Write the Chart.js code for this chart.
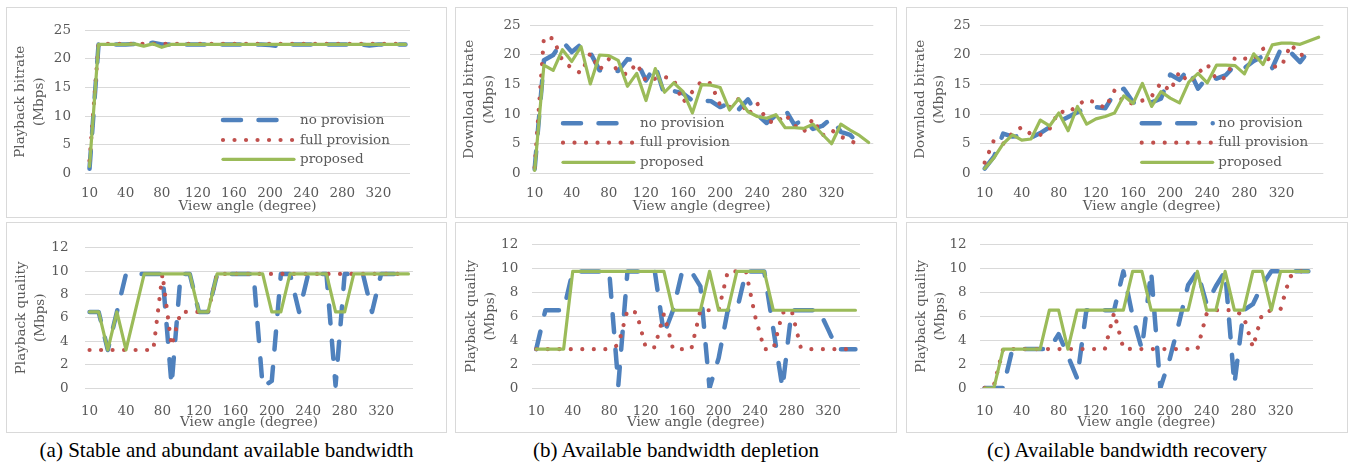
<!DOCTYPE html>
<html><head><meta charset="utf-8">
<script src="https://cdn.jsdelivr.net/npm/chart.js@4.4.0/dist/chart.umd.min.js"></script>
<style>
html,body{margin:0;padding:0;background:#fff;width:1351px;height:464px;overflow:hidden;}
.panel{position:absolute;border:1px solid #d9d9d9;box-sizing:border-box;}
.panel canvas{position:absolute;left:0;top:0;}
.cap{position:absolute;font-family:"Liberation Serif","Times New Roman",serif;font-size:21px;line-height:21px;color:#000;text-align:center;white-space:nowrap;}
</style></head><body>
<div class="panel" style="left:6px;top:7px;width:441px;height:211px"><canvas id="cA1" width="439" height="209"></canvas></div>
<div class="panel" style="left:455px;top:7px;width:442px;height:211px"><canvas id="cB1" width="440" height="209"></canvas></div>
<div class="panel" style="left:906px;top:7px;width:442px;height:211px"><canvas id="cC1" width="440" height="209"></canvas></div>
<div class="panel" style="left:6px;top:222px;width:441px;height:211px"><canvas id="cA2" width="439" height="209"></canvas></div>
<div class="panel" style="left:455px;top:222px;width:442px;height:211px"><canvas id="cB2" width="440" height="209"></canvas></div>
<div class="panel" style="left:906px;top:222px;width:442px;height:211px"><canvas id="cC2" width="440" height="209"></canvas></div>
<div class="cap" style="left:6px;top:440px;width:441px">(a) Stable and abundant available bandwidth</div>
<div class="cap" style="left:455px;top:440px;width:442px">(b) Available bandwidth depletion</div>
<div class="cap" style="left:906px;top:440px;width:442px">(c) Available bandwidth recovery</div>
<script>
// ---------- data ----------
const categories36 = ['0','10','20','30','40','50','60','70','80','90','100','110','120','130','140','150','160','170','180','190','200','210','220','230','240','250','260','270','280','290','300','310','320','330','340','350'];
const categories37 = ['0','10','20','30','40','50','60','70','80','90','100','110','120','130','140','150','160','170','180','190','200','210','220','230','240','250','260','270','280','290','300','310','320','330','340','350','360'];
const tickLabels = ['10','40','80','120','160','200','240','280','320'];
const seriesNames = ['no provision','full provision','proposed'];

// (a) playback bitrate
const rateA_none = [0.8,22.5,22.5,22.5,22.5,22.6,22.6,22.8,22.5,22.5,22.5,22.5,22.5,22.5,22.5,22.5,22.5,22.5,22.5,22.5,22.4,22.2,22.5,22.5,22.5,22.5,22.5,22.5,22.5,22.5,22.5,22.3,22.5,22.5,22.5,22.5];
const rateA_full = [2.2,22.6,22.6,22.6,22.6,22.6,22.6,22.6,22.6,22.6,22.6,22.6,22.6,22.6,22.6,22.6,22.6,22.6,22.6,22.6,22.6,22.6,22.6,22.6,22.6,22.6,22.6,22.6,22.6,22.6,22.6,22.6,22.6,22.6,22.6,22.6];
const rateA_prop = [1.2,22.5,22.5,22.5,22.5,22.6,22.2,22.6,22.0,22.5,22.5,22.5,22.5,22.5,22.5,22.5,22.5,22.5,22.5,22.5,22.5,22.5,22.5,22.5,22.5,22.5,22.5,22.5,22.5,22.5,22.5,22.5,22.5,22.5,22.5,22.5];
// (b) download bitrate
const rateB_none = [0.7,19.1,20.0,22.3,20.5,21.8,20.4,17.4,17.3,17.3,19.3,19.0,15.7,18.2,13.2,13.9,13.5,12.3,12.3,12.2,11.2,11.8,10.8,12.5,9.9,8.5,9.8,10.8,8.2,9.1,7.5,8.0,9.3,7.0,6.5,4.9];
const rateB_full = [1.0,23.0,22.8,19.0,17.8,16.9,20.3,17.5,19.3,17.2,16.7,18.6,15.6,16.0,16.3,15.8,12.0,13.8,15.6,15.2,11.5,11.2,12.6,9.9,11.8,9.0,8.4,10.0,8.1,7.0,9.2,6.4,7.3,6.2,5.5,4.8];
const rateB_prop = [0.5,18.3,17.4,20.9,18.9,21.4,15.1,20.0,19.9,19.1,14.7,16.9,12.3,17.7,13.7,15.3,13.8,10.2,15.0,14.9,14.5,10.7,12.6,10.4,9.6,9.3,9.9,7.7,7.7,7.6,8.3,6.6,5.0,8.3,7.3,6.4,5.2];
// (c) download bitrate
const rateC_none = [0.8,2.8,6.7,6.2,6.3,6.0,6.8,7.8,8.7,9.5,10.3,11.1,11.2,11.0,13.5,14.3,12.0,11.8,12.0,12.6,16.7,15.8,17.6,14.3,16.3,16.0,16.6,18.3,17.8,19.0,19.8,17.8,21.3,20.4,18.8,20.8];
const rateC_full = [1.8,5.6,5.0,6.8,7.8,6.6,6.5,7.5,10.5,10.2,11.5,12.5,11.9,11.0,14.0,12.0,11.8,12.3,13.0,15.3,13.9,17.2,15.3,16.9,18.4,15.8,16.2,19.6,19.4,19.3,21.1,18.0,18.1,21.8,20.0,20.1];
const rateC_prop = [0.8,2.6,5.0,6.5,5.6,5.8,9.0,8.0,10.2,7.2,11.3,8.3,9.2,9.6,10.2,13.1,11.8,15.2,11.3,13.8,12.7,11.9,15.4,16.9,15.3,18.3,18.3,18.2,16.8,20.2,18.4,21.7,22.0,22.0,21.8,22.4,23.0];
// (a) playback quality
const qualA_none = [6.5,6.5,3.25,6.5,9.75,9.75,9.75,9.75,9.75,0.25,9.75,9.75,6.5,6.5,9.75,9.75,9.75,9.75,9.75,0.1,0.6,9.75,9.75,6.5,9.75,9.75,9.75,0.2,9.75,9.75,9.75,6.5,9.75,9.75,9.75,9.75];
const qualA_full = [3.25,3.25,3.25,3.25,3.25,3.25,3.25,3.25,9.75,3.6,6.5,6.5,6.5,6.5,9.75,9.75,9.75,9.75,9.75,9.75,9.75,9.75,9.75,9.75,9.75,9.75,9.75,9.75,9.75,9.75,9.75,9.75,9.75,9.75,9.75,9.75];
const qualA_prop = [6.5,6.5,3.25,6.5,3.25,6.5,9.75,9.75,9.75,9.75,9.75,9.75,6.5,6.5,9.75,9.75,9.75,9.75,9.75,9.75,6.5,6.5,9.75,9.75,9.75,9.75,9.75,6.5,6.5,9.75,9.75,9.75,9.75,9.75,9.75,9.75];
// (b) playback quality
const qualB_none = [3.25,6.5,6.5,6.5,9.75,9.75,9.75,9.75,9.75,0.25,9.75,9.75,9.75,9.75,4.5,6.5,9.75,9.75,8.5,0,2.5,6.5,6.5,9.75,9.75,9.75,4.9,0,6.5,6.5,6.5,6.5,4.9,3.25,3.25,3.25];
const qualB_full = [3.25,3.25,3.25,3.25,3.25,3.25,3.25,3.25,3.25,3.6,6.5,6.3,3.4,3.4,6.2,3.25,3.25,3.25,6.5,6.5,6.5,9.75,9.75,9.75,6.0,3.25,3.25,6.3,6.5,3.4,3.25,3.25,3.25,3.25,3.25,3.25];
const qualB_prop = [3.25,3.25,3.25,3.25,9.75,9.75,9.75,9.75,9.75,9.75,9.75,9.75,9.75,9.75,9.75,6.5,6.5,6.5,6.5,9.75,6.5,6.5,9.75,9.75,9.75,9.75,6.5,6.5,6.5,6.5,6.5,6.5,6.5,6.5,6.5,6.5];
// (c) playback quality
const qualC_none = [0,0,0,3.25,3.25,3.25,3.25,3.25,4.5,2.7,0.8,6.5,6.5,6.5,6.5,9.75,6.0,3.25,9.75,0,2.4,5.4,8.6,9.75,7.0,8.5,9.75,0.3,6.5,7.0,8.6,9.75,9.75,9.75,9.75,9.75];
const qualC_full = [0,0.2,3.25,3.25,3.25,3.25,3.25,3.25,3.25,3.25,3.25,3.25,3.25,3.25,6.3,3.3,3.25,3.25,3.25,3.25,3.25,3.25,3.25,3.25,6.2,6.5,6.5,6.5,6.0,3.4,6.2,6.5,6.6,9.3,9.75,9.75];
const qualC_prop = [0,0,3.25,3.25,3.25,3.25,3.25,6.5,6.5,3.25,6.5,6.5,6.5,6.5,6.5,6.5,9.75,9.75,6.5,6.5,6.5,6.5,6.5,9.75,6.5,6.5,9.75,6.5,6.5,9.75,9.75,6.5,9.75,9.75,9.75,9.75];

// ---------- rendering ----------
const FONT = '"DejaVu Serif", "Liberation Serif", serif';
const GRAY = '#595959';
const GRID = '#d9d9d9';
const FS = 13.5;

const insideLegend = {
  id: 'insideLegend',
  afterDatasetsDraw(chart, args, o) {
    if (!o || !o.rows) return;
    const ctx = chart.ctx;
    chart.data.datasets.forEach((ds, i) => {
      const y = o.rows[i];
      ctx.save();
      ctx.strokeStyle = ds.borderColor;
      ctx.lineWidth = ds.borderWidth;
      ctx.lineCap = ds.borderCapStyle || 'butt';
      ctx.setLineDash(ds.borderDash || []);
      ctx.beginPath(); ctx.moveTo(o.x0, y); ctx.lineTo(o.x1, y); ctx.stroke();
      ctx.setLineDash([]);
      ctx.fillStyle = GRAY;
      ctx.font = FS + 'px ' + FONT;
      ctx.textBaseline = 'middle'; ctx.textAlign = 'left';
      ctx.fillText(ds.label, o.tx, y);
      ctx.restore();
    });
  }
};

function build(id, p) {
  return new Chart(document.getElementById(id), {
    type: 'line',
    plugins: [insideLegend],
    data: {
      labels: p.labels,
      datasets: [
        {label: seriesNames[0], data: p.none, borderColor: '#4F81BD', borderWidth: 4.5, borderDash: [18, 17.5], borderCapStyle: 'round', borderJoinStyle: 'round', order: 2},
        {label: seriesNames[1], data: p.full, borderColor: '#C0504D', borderWidth: 4.2, borderDash: [0.01, 11.5], borderCapStyle: 'round', borderJoinStyle: 'round', order: 1},
        {label: seriesNames[2], data: p.prop, borderColor: '#9BBB59', borderWidth: 3.2, borderCapStyle: 'round', borderJoinStyle: 'round', order: 0}
      ]
    },
    options: {
      responsive: false, animation: false, devicePixelRatio: 1,
      elements: {point: {radius: 0, hoverRadius: 0}, line: {tension: 0, fill: false}},
      layout: {padding: {left: 0, top: p.padT, right: p.padR, bottom: 0}},
      plugins: {legend: {display: false}, tooltip: {enabled: false}, insideLegend: p.legend || false},
      scales: {
        x: {
          type: 'category', offset: true,
          grid: {display: false, drawTicks: false}, border: {display: false},
          ticks: {autoSkip: false, maxRotation: 0, minRotation: 0, padding: p.xTickPad, color: GRAY, font: {family: FONT, size: FS},
            callback: function (v, i) { return i % 4 === 0 ? (tickLabels[i / 4] || '') : ''; }},
          title: {display: true, text: 'View angle (degree)', color: GRAY, font: {family: FONT, size: FS, lineHeight: 1.2}, padding: {top: 0, bottom: p.xTitlePad}},
          afterFit(s) { s.height = p.xAxisH; }
        },
        y: {
          min: 0, max: p.yMax,
          grid: {color: GRID, lineWidth: 1, drawTicks: false}, border: {display: false},
          ticks: {stepSize: p.yStep, padding: p.yTickPad, color: GRAY, font: {family: FONT, size: FS}},
          title: {display: true, text: p.yTitle, color: GRAY, font: {family: FONT, size: FS, lineHeight: 1.45}, padding: {top: p.yTitlePad, bottom: 0}},
          afterFit(s) { s.width = p.plotL; }
        }
      }
    }
  });
}

build('cA1', {labels: categories36, none: rateA_none, full: rateA_full, prop: rateA_prop,
  yMax: 25, yStep: 5, yTitle: ['Playback bitrate', '(Mbps)'],
  plotL: 78, padR: 36, padT: 10.3, xAxisH: 43.7, yTickPad: 14, yTitlePad: 3.3, xTickPad: 12, xTitlePad: 2.2,
  legend: {x0: 216, x1: 287, tx: 293, rows: [112, 132, 151.3]}});
build('cB1', {labels: categories37, none: rateB_none, full: rateB_full, prop: rateB_prop,
  yMax: 25, yStep: 5, yTitle: ['Download bitrate', '(Mbps)'],
  plotL: 74, padR: 22.7, padT: 10.3, xAxisH: 43.7, yTickPad: 9.3, yTitlePad: 4, xTickPad: 12, xTitlePad: 2.2,
  legend: {x0: 107, x1: 178, tx: 184, rows: [115.3, 134.7, 154.3]}});
build('cC1', {labels: categories37, none: rateC_none, full: rateC_full, prop: rateC_prop,
  yMax: 25, yStep: 5, yTitle: ['Download bitrate', '(Mbps)'],
  plotL: 73, padR: 23.7, padT: 10.3, xAxisH: 43.7, yTickPad: 9.3, yTitlePad: 3.6, xTickPad: 12, xTitlePad: 2.2,
  legend: {x0: 234.7, x1: 305.7, tx: 311.3, rows: [115.3, 134.7, 154.3]}});
build('cA2', {labels: categories36, none: qualA_none, full: qualA_full, prop: qualA_prop,
  yMax: 12, yStep: 2, yTitle: ['Playback quality', '(Mbps)'],
  plotL: 78, padR: 33, padT: 10, xAxisH: 44, yTickPad: 16.5, yTitlePad: 4.6, xTickPad: 15, xTitlePad: 1});
build('cB2', {labels: categories36, none: qualB_none, full: qualB_full, prop: qualB_prop,
  yMax: 12, yStep: 2, yTitle: ['Playback quality', '(Mbps)'],
  plotL: 75.7, padR: 36, padT: 10, xAxisH: 44, yTickPad: 13.4, yTitlePad: 5.6, xTickPad: 15, xTitlePad: 1});
build('cC2', {labels: categories36, none: qualC_none, full: qualC_full, prop: qualC_prop,
  yMax: 12, yStep: 2, yTitle: ['Playback quality', '(Mbps)'],
  plotL: 73, padR: 34, padT: 10, xAxisH: 44, yTickPad: 13.3, yTitlePad: 4.6, xTickPad: 15, xTitlePad: 1});
</script>
</body></html>
